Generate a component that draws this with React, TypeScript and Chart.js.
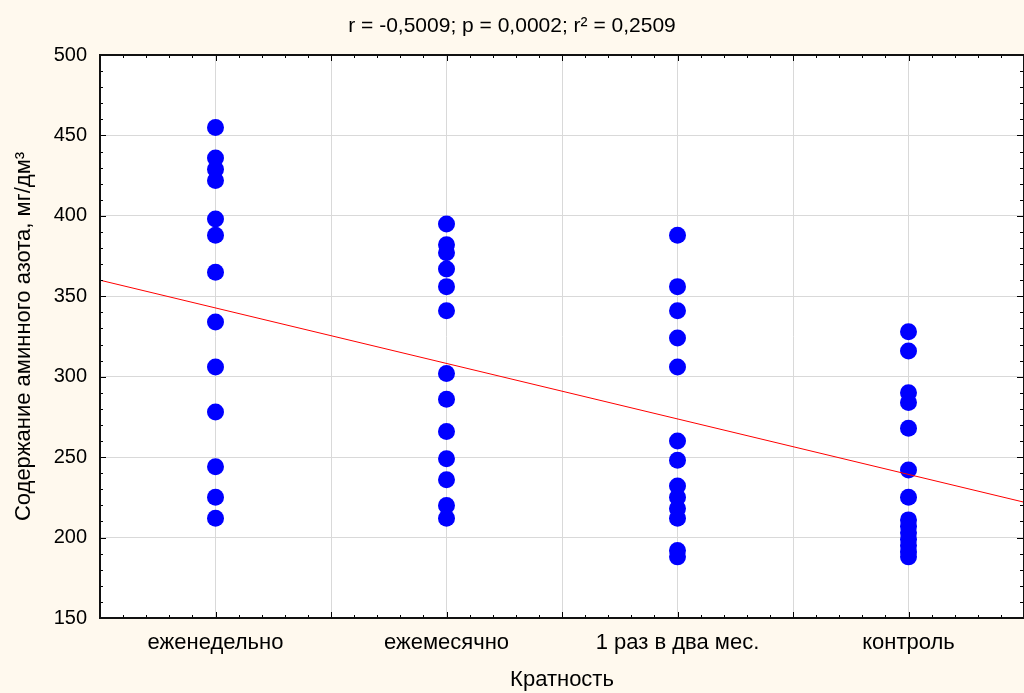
import { useEffect, useRef } from 'react';
import { Chart, registerables } from 'chart.js';

Chart.register(...registerables);

const categories = ['еженедельно', 'ежемесячно', '1 раз в два мес.', 'контроль'];
const weekly = [455, 436, 429, 422, 398, 388, 365, 334, 306, 278, 244, 225, 212];
const monthly = [395, 382, 377, 367, 356, 341, 302, 286, 266, 249, 236, 220, 212];
const bimonthly = [388, 356, 341, 324, 306, 260, 248, 232, 225, 218, 212, 192, 188];
const control = [328, 316, 290, 284, 268, 242, 225, 211, 207, 203, 199, 195, 191, 188];
const regressionX = [0.5, 4.5];
const regressionY = [360, 222];
const titleText = 'r = -0,5009; p = 0,0002; r² = 0,2509';
const xTitle = 'Кратность';
const yTitle = 'Содержание аминного азота, мг/дм³';
const yMin = 150;
const yMax = 500;
const yStep = 50;
const xMin = 0.5;
const xMax = 4.5;

const FONT = '"Liberation Sans", Arial, sans-serif';

const framePlugin = {
  id: 'frame',
  beforeDraw(chart: any) {
    const { ctx, chartArea } = chart;
    ctx.save();
    ctx.fillStyle = '#FFF9EE';
    ctx.fillRect(0, 0, chart.width, chart.height);
    ctx.fillStyle = '#FFFFFF';
    ctx.fillRect(chartArea.left, chartArea.top, chartArea.right - chartArea.left, chartArea.bottom - chartArea.top);
    ctx.restore();
  },
  afterDraw(chart: any) {
    const { ctx, chartArea } = chart;
    const { left, right, top, bottom } = chartArea;
    const xs = chart.scales.x;
    const ys = chart.scales.y;
    ctx.save();
    ctx.strokeStyle = '#000';
    ctx.lineWidth = 1;
    ctx.beginPath();
    for (let i = 0; i <= 40; i++) {
      const v = xMin + i * 0.1;
      const px = Math.round(xs.getPixelForValue(v)) + 0.5;
      const len = i % 5 === 0 ? 6 : 3;
      ctx.moveTo(px, bottom);
      ctx.lineTo(px, bottom - len);
      ctx.moveTo(px, top);
      ctx.lineTo(px, top + len);
    }
    for (let v = yMin; v <= yMax; v += 10) {
      const py = Math.round(ys.getPixelForValue(v)) + 0.5;
      const len = (v - yMin) % 50 === 0 ? 6 : 3;
      ctx.moveTo(left, py);
      ctx.lineTo(left + len, py);
      ctx.moveTo(right - 1, py);
      ctx.lineTo(right - 1 - len, py);
    }
    ctx.stroke();
    ctx.lineWidth = 2;
    ctx.strokeStyle = '#111';
    ctx.strokeRect(left, top, right - left, bottom - top);
    ctx.restore();
  },
};

export default function App() {
  const ref = useRef<HTMLCanvasElement | null>(null);

  useEffect(() => {
    if (!ref.current) return;
    const toPts = (arr: number[], xi: number) => arr.map((v) => ({ x: xi, y: v }));
    const chart = new Chart(ref.current, {
      type: 'scatter',
      data: {
        datasets: [
          {
            type: 'line',
            label: 'regression',
            data: regressionX.map((x, i) => ({ x, y: regressionY[i] })),
            borderColor: '#FF0000',
            borderWidth: 1,
            pointRadius: 0,
            fill: false,
          } as any,
          {
            label: 'points',
            data: [
              ...toPts(weekly, 1),
              ...toPts(monthly, 2),
              ...toPts(bimonthly, 3),
              ...toPts(control, 4),
            ],
            backgroundColor: '#0000FF',
            borderColor: '#0000FF',
            borderWidth: 0,
            pointRadius: 8.5,
            pointStyle: 'circle',
          },
        ],
      },
      options: {
        responsive: false,
        animation: false,
        layout: { autoPadding: false, padding: { left: 0, right: 0, top: 0, bottom: 0 } },
        plugins: {
          legend: { display: false },
          tooltip: { enabled: false },
          title: {
            display: true,
            text: titleText,
            color: '#000',
            font: { family: FONT, size: 21, weight: 'normal', lineHeight: 1.2 },
            padding: { top: 14, bottom: 15.8 },
          },
        },
        scales: {
          x: {
            type: 'linear',
            min: xMin,
            max: xMax,
            afterFit(scale: any) {
              scale.height = 75;
              scale.paddingLeft = 0;
              scale.paddingRight = 0;
            },
            ticks: {
              stepSize: 0.5,
              autoSkip: false,
              maxRotation: 0,
              color: '#000',
              padding: 12,
              font: { family: FONT, size: 22 },
              callback: (v: any) => {
                const n = Number(v);
                return Number.isInteger(n) && n >= 1 && n <= categories.length ? categories[n - 1] : '';
              },
            },
            grid: { color: '#D9D9D9', lineWidth: 1, drawTicks: false },
            border: { display: false },
            title: {
              display: true,
              text: xTitle,
              color: '#000',
              font: { family: FONT, size: 22 },
              padding: { top: 0, bottom: 0 },
            },
          },
          y: {
            type: 'linear',
            min: yMin,
            max: yMax,
            afterFit(scale: any) {
              scale.width = 100;
              scale.paddingTop = 0;
              scale.paddingBottom = 0;
            },
            ticks: {
              stepSize: yStep,
              color: '#000',
              padding: 13,
              font: { family: FONT, size: 20 },
            },
            grid: { color: '#D9D9D9', lineWidth: 1, drawTicks: false },
            border: { display: false },
            title: {
              display: true,
              text: yTitle,
              color: '#000',
              font: { family: FONT, size: 22 },
              padding: { top: 11, bottom: 0 },
            },
          },
        },
      },
      plugins: [framePlugin],
    });
    return () => chart.destroy();
  }, []);

  return (
    <div style={{ position: 'fixed', left: 0, top: 0, width: 1024, height: 693 }}>
      <canvas ref={ref} width={1024} height={693} />
    </div>
  );
}
